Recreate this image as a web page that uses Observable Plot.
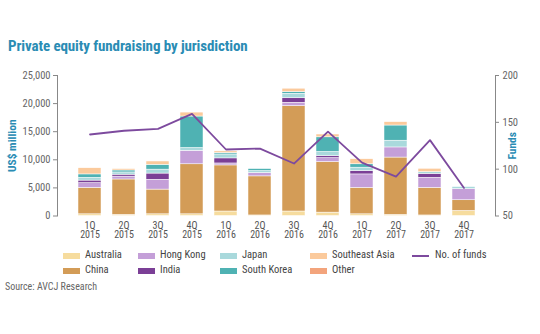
<!DOCTYPE html>
<html>
<head>
<meta charset="utf-8">
<script src="https://cdn.jsdelivr.net/npm/d3@7"></script>
<script src="https://cdn.jsdelivr.net/npm/@observablehq/plot@0.6"></script>
<style>
  html, body { margin: 0; padding: 0; background: #fff; }
  body { position: relative; width: 540px; height: 334px; overflow: hidden;
         font-family: "Liberation Sans Narrow", "Roboto Condensed", "DejaVu Sans Condensed", Roboto, sans-serif; }
  #title { position: absolute; left: 8px; top: 37px; font-size: 15px; font-weight: bold; color: #2a8cb4; white-space: nowrap; letter-spacing: -0.1px; }
  #chart { position: absolute; left: 0; top: 60px; }
  .lg { position: absolute; font-size: 10.5px; color: #444; white-space: nowrap; line-height: 12px; }
  .sw { position: absolute; width: 17px; height: 6px; }
  #source { position: absolute; left: 5px; top: 281px; font-size: 10px; color: #666; }
</style>
</head>
<body>
<div id="title">Private equity fundraising by jurisdiction</div>
<div id="chart"></div>
<div id="legend"></div>
<div id="source">Source: AVCJ Research</div>
<script>
const quarters = ["1Q 2015","2Q 2015","3Q 2015","4Q 2015","1Q 2016","2Q 2016","3Q 2016","4Q 2016","1Q 2017","2Q 2017","3Q 2017","4Q 2017"];
const seriesNames = ["Australia","China","Hong Kong","India","Japan","South Korea","Southeast Asia","Other"];
const seriesColors = ["#f6dc9e","#d39c57","#c49fd8","#7b3f96","#a9d9dc","#4fb2b3","#fbca9c","#f3a47c"];

// US$ million
const australia    = [300, 200, 300, 300, 800, 100, 800, 600, 300, 200, 100, 900];
const china        = [4700, 6300, 4400, 8900, 8200, 6950, 18750, 9000, 4700, 10200, 4900, 1900];
const hongKong     = [850, 500, 1750, 2400, 350, 600, 600, 700, 2400, 1800, 1800, 2000];
const india        = [450, 350, 1100, 0, 900, 0, 800, 350, 600, 0, 700, 0];
const japan        = [500, 400, 700, 500, 700, 350, 800, 750, 600, 1200, 300, 350];
const southKorea   = [600, 350, 850, 5600, 250, 350, 300, 2600, 600, 2700, 0, 0];
const southeastAsia= [1100, 250, 600, 700, 300, 0, 600, 500, 900, 600, 600, 0];
const other        = [0, 0, 0, 0, 0, 0, 0, 0, 0, 0, 0, 0];

// Number of funds (right axis)
const funds = [137, 141, 143, 159, 121, 122, 106, 140, 107, 92, 131, 80];

const leftTicks = [0, 5000, 10000, 15000, 20000, 25000];
const rightTicks = [50, 100, 150, 200];
const leftDomain = [0, 25000];
const rightDomain = [50, 200];

const seriesValues = [australia, china, hongKong, india, japan, southKorea, southeastAsia, other];
const rows = [];
seriesNames.forEach((s, i) => quarters.forEach((q, j) => rows.push({q, series: s, value: seriesValues[i][j]})));

// map funds onto the shared y scale (dual axis)
const toLeft = f => leftDomain[0] + (f - rightDomain[0]) / (rightDomain[1] - rightDomain[0]) * (leftDomain[1] - leftDomain[0]);
const toRight = v => rightDomain[0] + (v - leftDomain[0]) / (leftDomain[1] - leftDomain[0]) * (rightDomain[1] - rightDomain[0]);
const fundRows = quarters.map((q, j) => ({q, y: toLeft(funds[j])}));

const lineColor = "#7d4a9e";
const axisColor = "#888";
const labelColor = "#2a8cb4";
const fontFam = getComputedStyle(document.body).fontFamily;

const chart = Plot.plot({
  width: 540,
  height: 185,
  marginLeft: 57,
  marginRight: 45,
  marginTop: 15,
  marginBottom: 29.5,
  style: {fontFamily: fontFam, background: "transparent", overflow: "visible"},
  x: {domain: quarters, paddingInner: 0.33, paddingOuter: 0.45, axis: null},
  y: {domain: leftDomain, axis: null},
  color: {domain: seriesNames, range: seriesColors},
  marks: [
    Plot.barY(rows, {x: "q", y: "value", fill: "series", stroke: "#fff", strokeWidth: 0.5}),
    Plot.line(fundRows, {x: "q", y: "y", stroke: lineColor, strokeWidth: 1.8}),
    Plot.frame({anchor: "left", stroke: axisColor}),
    Plot.frame({anchor: "right", stroke: axisColor}),
    Plot.axisY({anchor: "left", ticks: leftTicks, tickFormat: d3.format(","), tickSize: 4, tickPadding: 3,
                fontSize: 10.5, color: "#666", stroke: axisColor, label: null}),
    Plot.axisY({anchor: "right", ticks: rightTicks.map(toLeft), tickFormat: v => String(Math.round(toRight(v))),
                tickSize: 3, tickPadding: 4, fontSize: 10.5, color: "#666", stroke: axisColor, label: null}),
    Plot.axisX({anchor: "bottom", tickSize: 0, tickPadding: 6, fontSize: 10, color: "#555",
                tickFormat: d => d.replace(" ", "\n"), lineHeight: 0.95, label: null}),
    Plot.text(["US$ million"], {frameAnchor: "left", textAnchor: "middle", dx: -45, rotate: -90, fill: labelColor, fontSize: 11.5, fontWeight: "bold"}),
    Plot.text(["Funds"], {frameAnchor: "right", textAnchor: "middle", dx: 17, rotate: -90, fill: labelColor, fontSize: 11.5, fontWeight: "bold"})
  ]
});
document.getElementById("chart").appendChild(chart);

// legend (HTML, below the SVG)
const legend = document.getElementById("legend");
const colX = [63, 138, 220, 310];
const rowY = [255.5, 270.5];
seriesNames.forEach((s, i) => {
  const col = Math.floor(i / 2), row = i % 2;
  const sw = document.createElement("div");
  sw.className = "sw";
  sw.style.left = colX[col] + "px";
  sw.style.top = (rowY[row] - 3) + "px";
  sw.style.background = seriesColors[i];
  legend.appendChild(sw);
  const t = document.createElement("div");
  t.className = "lg";
  t.textContent = s;
  t.style.left = (colX[col] + 22) + "px";
  t.style.top = (rowY[row] - 6.5) + "px";
  legend.appendChild(t);
});
const ln = document.createElement("div");
ln.style.cssText = `position:absolute;left:412px;top:${rowY[0]-1}px;width:17px;height:2px;background:${lineColor}`;
legend.appendChild(ln);
const lt = document.createElement("div");
lt.className = "lg";
lt.textContent = "No. of funds";
lt.style.left = "435px";
lt.style.top = (rowY[0] - 6.5) + "px";
legend.appendChild(lt);
</script>
</body>
</html>
